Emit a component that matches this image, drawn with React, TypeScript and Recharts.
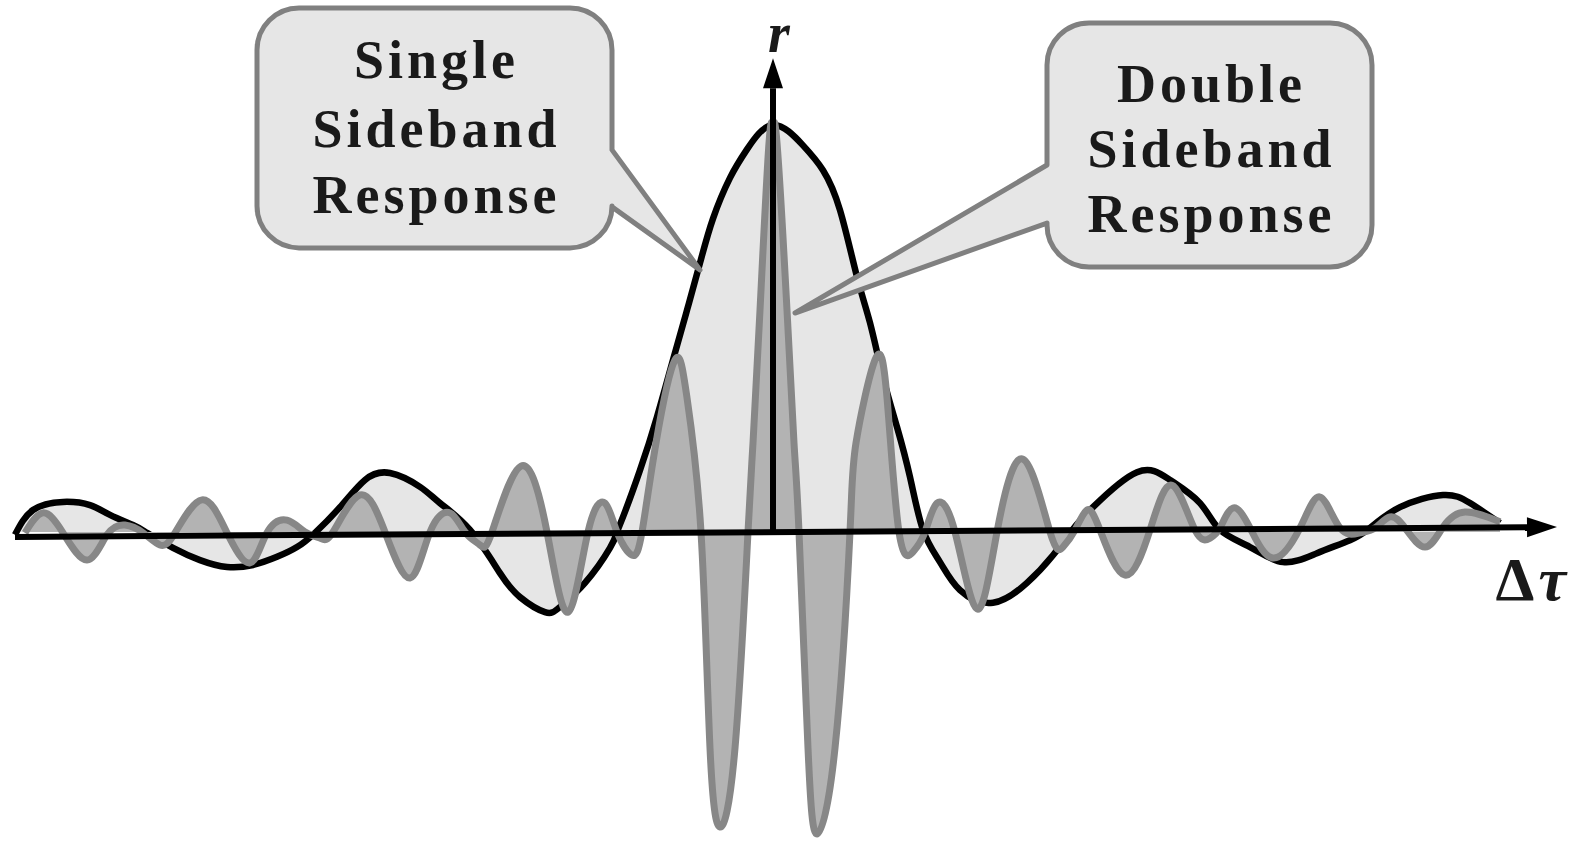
import React from "react";
import { Area, ComposedChart, ReferenceDot, ReferenceLine, XAxis, YAxis } from "recharts";

// single sideband response (black envelope)
const ssbTau = [
  -7.58, -7.4, -7.1, -6.83, -6.63, -6.4, -6.26, -6.0, -5.73, -5.46, -5.2, -4.96, -4.76, -4.58,
  -4.33, -4.08, -3.83, -3.53, -3.33, -3.03, -2.73, -2.53, -2.28, -2.13, -1.88, -1.63, -1.56,
  -1.5, -1.33, -1.16, -1.0, -0.86, -0.73, -0.6, -0.43, -0.26, 0, 0.3, 0.5, 0.67,
  0.84, 0.97, 1.1, 1.24, 1.37, 1.5, 1.67, 1.87, 2.2, 2.54, 2.8, 3.0, 3.2, 3.64, 3.97, 4.27, 4.47,
  4.77, 5.1, 5.44, 5.77, 5.97, 6.27, 6.7, 6.97, 7.27,
];
const ssbR = [
  -0.007, 0.054, 0.074, 0.066, 0.042, 0.017, -0.002, -0.039, -0.069, -0.086, -0.081, -0.061,
  -0.037, -0.002, 0.061, 0.128, 0.145, 0.111, 0.071, 0.005, -0.101, -0.16, -0.197, -0.184,
  -0.125, -0.039, 0, 0.037, 0.152, 0.283, 0.423, 0.545, 0.661, 0.77, 0.87, 0.94, 1.0,
  0.95, 0.889, 0.791, 0.627, 0.514, 0.381, 0.258, 0.135, 0.005, -0.074, -0.143, -0.174,
  -0.125, -0.057, 0.007, 0.061, 0.147, 0.128, 0.071, 0.005, -0.037, -0.074, -0.052, -0.02, 0.01,
  0.061, 0.091, 0.071, 0.022,
];

// double sideband response (grey fringes)
const dsbTau = [
  -7.48, -7.3, -7.1, -6.86, -6.66, -6.48, -6.3, -6.13, -5.98, -5.71, -5.46, -5.23, -5.06, -4.86,
  -4.68, -4.53, -4.4, -4.13, -3.88, -3.63, -3.43, -3.23, -3.08, -2.93, -2.81, -2.52, -2.26,
  -2.05, -1.85, -1.68, -1.56, -1.41, -1.31, -1.17, -0.98, -0.86, -0.72, -0.63, -0.53, -0.38,
  -0.25, -0.2, -0.13, -0.04, 0, 0.04, 0.14, 0.21, 0.26, 0.35, 0.44, 0.62, 0.77, 0.83, 1.02, 1.14,
  1.26, 1.4, 1.52, 1.64, 1.82, 2.04, 2.24, 2.5, 2.77, 2.9, 3.02, 3.14, 3.27, 3.52, 3.77, 3.99,
  4.22, 4.37, 4.47, 4.6, 4.77, 5.0, 5.27, 5.47, 5.67, 5.87, 6.02, 6.17, 6.32, 6.52, 6.7, 6.92,
  7.27,
];
const dsbR = [
  -0.002, 0.047, -0.002, -0.069, -0.007, 0.017, -0.002, -0.032, -0.002, 0.079, -0.002, -0.076,
  -0.002, 0.029, 0, -0.015, 0, 0.091, 0, -0.113, 0, 0.047, 0, -0.032, 0, 0.162, 0, -0.197, 0,
  0.071, 0, -0.057, 0, 0.219, 0.423, 0.33, 0, -0.531, -0.725, -0.531, 0, 0.219, 0.545, 0.956, 1.0,
  0.956, 0.545, 0.219, 0, -0.531, -0.742, -0.531, 0, 0.219, 0.423, 0.33, 0, -0.049, 0, 0.071, 0,
  -0.189, 0, 0.179, 0, -0.037, 0.005, 0.054, 0.005, -0.106, 0.005, 0.115, 0.005, -0.015, 0.01,
  0.059, 0.01, -0.064, 0.01, 0.086, 0.01, -0.002, 0.01, 0.037, 0.01, -0.037, 0.012, 0.049,
  0.025,
];

const ssbData = ssbTau.map((tau, i) => ({ tau, r: ssbR[i] }));
const dsbData = dsbTau.map((tau, i) => ({ tau, r: dsbR[i] }));

const SERIF = '"Liberation Serif", "Times New Roman", serif';
const BOX_FILL = "#e6e6e6";
const BOX_STROKE = "#808080";

function arrowShape(label: string, dx: number, dy: number, anchor: "middle" | "end", width: number) {
  return (props: any) => {
    const { x1, y1, x2, y2 } = props;
    const ang = Math.atan2(y2 - y1, x2 - x1);
    const len = 30;
    const half = 10;
    const bx = x2 - len * Math.cos(ang);
    const by = y2 - len * Math.sin(ang);
    const nx = -Math.sin(ang) * half;
    const ny = Math.cos(ang) * half;
    return (
      <g>
        <line x1={x1} y1={y1} x2={bx} y2={by} stroke="#000" strokeWidth={width} />
        <polygon points={`${x2},${y2} ${bx + nx},${by + ny} ${bx - nx},${by - ny}`} fill="#000" />
        <text
          x={x2 + dx}
          y={y2 + dy}
          textAnchor={anchor}
          fontFamily={SERIF}
          fontWeight="bold"
          fontSize={56}
          fill="#1a1a1a"
        >
          {label === "r" ? (
            <tspan fontStyle="italic">r</tspan>
          ) : (
            <>
              <tspan fontSize={62}>Δ</tspan>
              <tspan fontStyle="italic" fontSize={62} dx={4}>τ</tspan>
            </>
          )}
        </text>
      </g>
    );
  };
}

interface CalloutSpec {
  lines: string[];
  // box offsets relative to the tip
  left: number;
  top: number;
  right: number;
  bottom: number;
  tailA: number;
  tailB: number;
  side: "left" | "right";
  baselines: number[];
}

function calloutShape(spec: CalloutSpec) {
  return (props: any) => {
    const { cx, cy } = props;
    const l = cx + spec.left;
    const t = cy + spec.top;
    const R = cx + spec.right;
    const B = cy + spec.bottom;
    const rad = 42;
    const ta = cy + spec.tailA;
    const tb = cy + spec.tailB;
    let d = "";
    if (spec.side === "right") {
      d = `M${l + rad},${t} H${R - rad} A${rad},${rad} 0 0 1 ${R},${t + rad} V${ta} L${cx},${cy} L${R},${tb} V${B - rad} A${rad},${rad} 0 0 1 ${R - rad},${B} H${l + rad} A${rad},${rad} 0 0 1 ${l},${B - rad} V${t + rad} A${rad},${rad} 0 0 1 ${l + rad},${t} Z`;
    } else {
      d = `M${l + rad},${t} H${R - rad} A${rad},${rad} 0 0 1 ${R},${t + rad} V${B - rad} A${rad},${rad} 0 0 1 ${R - rad},${B} H${l + rad} A${rad},${rad} 0 0 1 ${l},${B - rad} V${tb} L${cx},${cy} L${l},${ta} V${t + rad} A${rad},${rad} 0 0 1 ${l + rad},${t} Z`;
    }
    const mid = (l + R) / 2;
    return (
      <g>
        <path d={d} fill={BOX_FILL} stroke={BOX_STROKE} strokeWidth={5} strokeLinejoin="round" />
        {spec.lines.map((s, i) => (
          <text
            key={s}
            x={mid + 2}
            y={cy + spec.baselines[i]}
            textAnchor="middle"
            fontFamily={SERIF}
            fontWeight="bold"
            fontSize={54}
            letterSpacing={4}
            fill="#1a1a1a"
          >
            {s}
          </text>
        ))}
      </g>
    );
  };
}

// tip at px (700,270)
const ssbCallout: CalloutSpec = {
  lines: ["Single", "Sideband", "Response"],
  left: -443,
  top: -262,
  right: -88,
  bottom: -22,
  tailA: -120,
  tailB: -63,
  side: "right",
  baselines: [-192, -123, -57],
};

// tip at px (795,313)
const dsbCallout: CalloutSpec = {
  lines: ["Double", "Sideband", "Response"],
  left: 252,
  top: -290,
  right: 577,
  bottom: -46,
  tailA: -148,
  tailB: -90,
  side: "left",
  baselines: [-211, -146, -81],
};

export default function App() {
  return (
    <div style={{ position: "absolute", left: 0, top: 0, background: "#fff" }}>
      <ComposedChart width={1571} height={841} margin={{ top: 0, right: 0, bottom: 0, left: 0 }}>
        <XAxis type="number" dataKey="tau" domain={[-7.73, 7.98]} allowDataOverflow hide />
        <YAxis type="number" domain={[-0.7592, 1.3071]} allowDataOverflow hide />
        <Area
          data={ssbData}
          dataKey="r"
          type="natural"
          fill={BOX_FILL}
          fillOpacity={1}
          stroke="#000"
          strokeWidth={6.5}
          isAnimationActive={false}
          dot={false}
          activeDot={false}
        />
        <Area
          data={dsbData}
          dataKey="r"
          type="natural"
          fill="#b3b3b3"
          fillOpacity={1}
          stroke="#878787"
          strokeWidth={7}
          isAnimationActive={false}
          dot={false}
          activeDot={false}
        />
        <ReferenceLine
          segment={[
            { x: -7.58, y: -0.012 },
            { x: 7.84, y: 0.012 },
          ]}
          shape={arrowShape("Δτ", 9, 73, "end", 6)}
        />
        <ReferenceLine
          segment={[
            { x: 0, y: 0 },
            { x: 0, y: 1.164 },
          ]}
          shape={arrowShape("r", 6, -6, "middle", 6)}
        />
        <ReferenceDot x={-0.73} y={0.644} r={0} shape={calloutShape(ssbCallout)} />
        <ReferenceDot x={0.22} y={0.538} r={0} shape={calloutShape(dsbCallout)} />
      </ComposedChart>
    </div>
  );
}
